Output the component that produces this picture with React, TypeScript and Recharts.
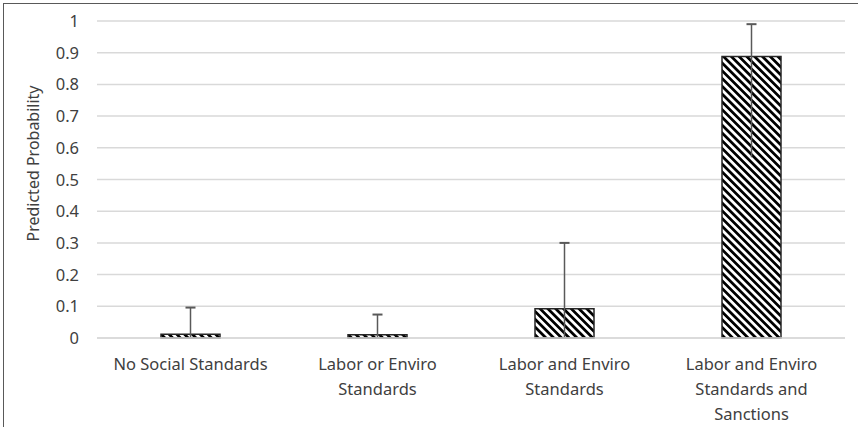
import React from 'react';
import { BarChart, Bar, XAxis, YAxis, CartesianGrid } from 'recharts';

const CATEGORIES = [
  'No Social Standards',
  'Labor or Enviro Standards',
  'Labor and Enviro Standards',
  'Labor and Enviro Standards and Sanctions',
];
const TICK_LINES = [
  ['No Social Standards'],
  ['Labor or Enviro', 'Standards'],
  ['Labor and Enviro', 'Standards'],
  ['Labor and Enviro', 'Standards and', 'Sanctions'],
];
const PROBABILITY = [0.012, 0.01, 0.092, 0.888];
const CI_LOW = [0, 0, 0, 0.57];
const CI_HIGH = [0.096, 0.074, 0.3, 0.99];
const Y_TICKS = [0, 0.1, 0.2, 0.3, 0.4, 0.5, 0.6, 0.7, 0.8, 0.9, 1];

const data = CATEGORIES.map((name, i) => ({
  name,
  p: PROBABILITY[i],
  ci: [CI_LOW[i], CI_HIGH[i]],
}));

const FONT = '"Noto Sans", sans-serif';
const TEXT = '#404040';

// x-axis labels are wrapped like the original
const XTick = (props: any) => {
  const { x, y, index } = props;
  const lines = TICK_LINES[index] || [];
  return (
    <text x={x} y={y} textAnchor="middle" fill={TEXT} fontSize={16.5} fontFamily={FONT}>
      {lines.map((l, i) => (
        <tspan key={i} x={x} dy={i === 0 ? 24 : 25}>{l}</tspan>
      ))}
    </text>
  );
};

const YTick = (props: any) => {
  const { x, y, payload } = props;
  return (
    <text x={x} y={y} dy={6} textAnchor="end" fill={TEXT} fontSize={16.5} fontFamily={FONT}>
      {String(payload.value)}
    </text>
  );
};

// error line with a cap on top only
const ErrShape = (props: any) => {
  const { x, y, width, height } = props;
  const cx = x + width / 2;
  return (
    <g>
      <line x1={cx} x2={cx} y1={y} y2={y + height} stroke="#595959" strokeWidth={1.5} />
      <line x1={cx - 5} x2={cx + 5} y1={y} y2={y} stroke="#595959" strokeWidth={2} />
    </g>
  );
};

const YLabel = (props: any) => {
  const vb = props.viewBox;
  const cx = vb.x + 16;
  const cy = vb.y + vb.height / 2 - 16;
  return (
    <text x={cx} y={cy} textAnchor="middle" dominantBaseline="central" fill={TEXT} fontSize={16}
      fontFamily={FONT} transform={`rotate(-90 ${cx} ${cy})`}>
      Predicted Probability
    </text>
  );
};

export default function App() {
  return (
    <div style={{ position: 'absolute', left: 0, top: 0, width: 858, height: 427, background: '#fff', overflow: 'hidden' }}>
      <div style={{ position: 'absolute', left: 3, top: 3, width: 900, height: 500, border: '1.5px solid #595959' }} />
      <div style={{ position: 'absolute', left: 0, top: 0 }}>
        <BarChart width={858} height={427} data={data} margin={{ top: 21, right: 13, left: 17, bottom: 29 }}
          barSize={59}>
          <defs>
            <pattern id="hatch" width="5.5" height="5.5" patternUnits="userSpaceOnUse" patternTransform="rotate(45)">
              <rect width="5.5" height="5.5" fill="#fff" />
              <rect width="5.5" height="2.9" fill="#000" shapeRendering="crispEdges" />
            </pattern>
          </defs>
          <CartesianGrid vertical={false} stroke="#d9d9d9" strokeWidth={1.5} />
          <XAxis dataKey="name" axisLine={{ stroke: '#d9d9d9', strokeWidth: 1.5 }} tickLine={false}
            height={60} interval={0} tick={<XTick />} />
          <XAxis xAxisId="err" dataKey="name" hide />
          <YAxis domain={[0, 1]} ticks={Y_TICKS} width={80} axisLine={false} tickLine={false}
            tickMargin={12} tick={<YTick />} label={<YLabel />} />
          <Bar dataKey="p" fill="url(#hatch)" stroke="#262626" strokeWidth={1.5} isAnimationActive={false} />
          <Bar dataKey="ci" xAxisId="err" shape={<ErrShape />} isAnimationActive={false} />
        </BarChart>
      </div>
    </div>
  );
}
